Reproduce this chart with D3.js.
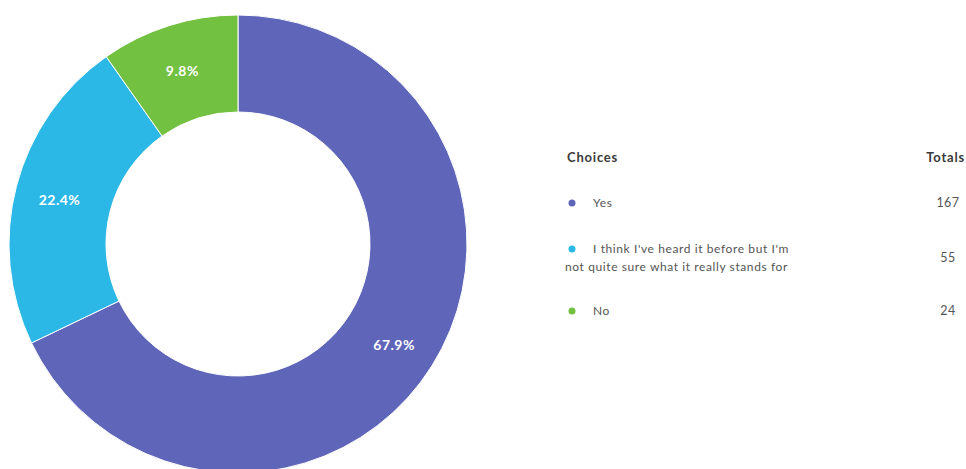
<!DOCTYPE html>
<html>
<head>
<meta charset="utf-8">
<script src="https://cdn.jsdelivr.net/npm/d3@7"></script>
<style>
  html, body { margin: 0; padding: 0; background: #fff; }
  svg { display: block; font-family: Lato, "Open Sans", sans-serif; }
</style>
</head>
<body>
<svg id="chart" width="966" height="469"></svg>
<script>
// Survey answers and their response counts
const choices = [
  "Yes",
  "I think I've heard it before but I'm not quite sure what it really stands for",
  "No"
];
const choiceLines = [
  ["Yes"],
  ["I think I've heard it before but I'm", "not quite sure what it really stands for"],
  ["No"]
];
const totals = [167, 55, 24];
const colors = ["#5f65b9", "#2cb8e6", "#73c140"];

const svg = d3.select("#chart");
const cx = 238, cy = 244, outerR = 229, innerR = 132;

const sum = d3.sum(totals);
const pct = d3.format(".1%");
const color = d3.scaleOrdinal().domain(choices).range(colors);

const pie = d3.pie().sort(null).value(d => d.total);
const rows = choices.map((c, i) => ({ choice: c, lines: choiceLines[i], total: totals[i] }));
const arcs = pie(rows);

const arc = d3.arc().innerRadius(innerR).outerRadius(outerR);

const g = svg.append("g").attr("transform", `translate(${cx},${cy})`);

g.selectAll("path.slice")
  .data(arcs)
  .join("path")
  .attr("class", "slice")
  .attr("d", arc)
  .attr("fill", d => color(d.data.choice))
  .attr("stroke", "#ffffff")
  .attr("stroke-width", 1);

// Percentage labels sit in the middle of each ring segment
const labelArc = d3.arc().innerRadius(innerR + 4).outerRadius(outerR + 4);
g.selectAll("text.pct")
  .data(arcs)
  .join("text")
  .attr("class", "pct")
  .attr("transform", d => {
    const [x, y] = labelArc.centroid(d);
    return `translate(${x},${y + 3})`;
  })
  .attr("text-anchor", "middle")
  .attr("dy", "0.35em")
  .attr("fill", "#ffffff")
  .attr("font-size", 14)
  .attr("font-weight", 700)
  .attr("letter-spacing", 0.5)
  .text(d => pct(d.data.total / sum));

// Legend table: choices on the left, totals on the right
const legend = svg.append("g");
const dotX = 572, textX = 593, wrapX = 565, totalX = 948;
const rowY = [207, 253, 315];

legend.append("text")
  .attr("x", 567).attr("y", 162)
  .attr("font-size", 13).attr("font-weight", 700)
  .attr("letter-spacing", 0.8)
  .attr("fill", "#3a3a3a")
  .text("Choices");

legend.append("text")
  .attr("x", 965).attr("y", 162)
  .attr("text-anchor", "end")
  .attr("font-size", 13).attr("font-weight", 700)
  .attr("letter-spacing", 0.8)
  .attr("fill", "#3a3a3a")
  .text("Totals");

const row = legend.selectAll("g.row")
  .data(rows)
  .join("g")
  .attr("class", "row")
  .attr("transform", (d, i) => `translate(0,${rowY[i]})`);

row.append("circle")
  .attr("cx", dotX).attr("cy", -4)
  .attr("r", 3.5)
  .attr("fill", d => color(d.choice));

row.each(function(d) {
  const t = d3.select(this).append("text")
    .attr("font-size", 12)
    .attr("letter-spacing", 0.6)
    .attr("fill", "#555555");
  d.lines.forEach((line, j) => {
    t.append("tspan")
      .attr("x", j === 0 ? textX : wrapX)
      .attr("y", j * 18)
      .text(line);
  });
});

row.append("text")
  .attr("x", totalX)
  .attr("y", d => d.lines.length > 1 ? 9 : 0)
  .attr("text-anchor", "middle")
  .attr("font-size", 12.5)
  .attr("letter-spacing", 0.5)
  .attr("fill", "#555555")
  .text(d => d.total);
</script>
</body>
</html>
